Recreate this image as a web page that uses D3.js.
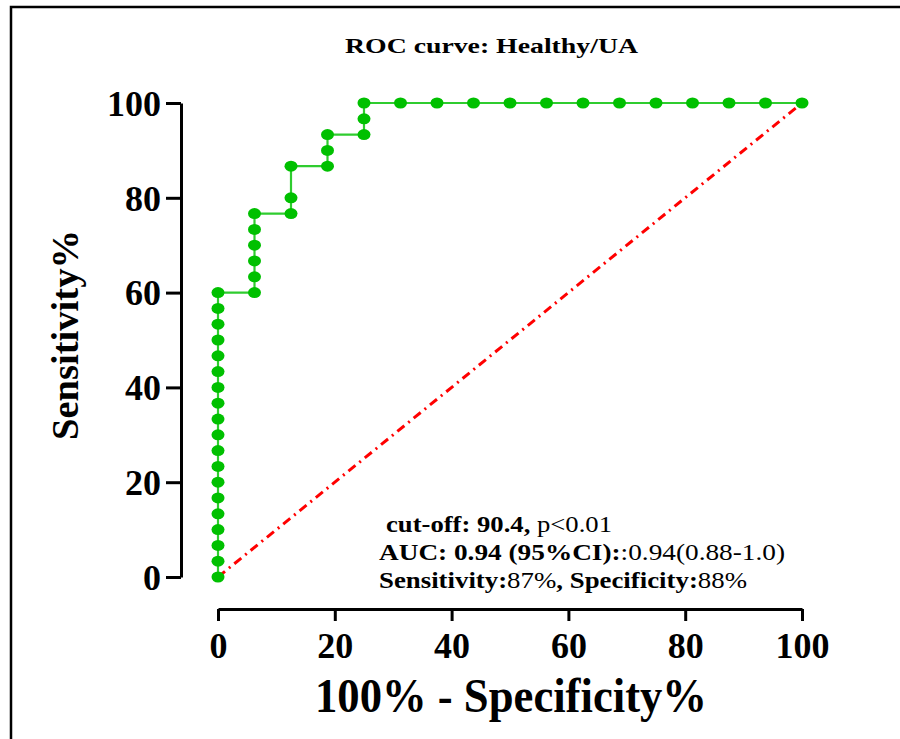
<!DOCTYPE html>
<html>
<head>
<meta charset="utf-8">
<script src="https://cdn.jsdelivr.net/npm/d3@7"></script>
<style>
  body { margin: 0; background: #fff; }
  text { font-family: "Liberation Serif", "Times New Roman", serif; }
</style>
</head>
<body>
<svg></svg>
<script>
// ROC points: 100% - Specificity% (x) vs Sensitivity% (y)
var fpr = [0, 0, 0, 0, 0, 0, 0, 0, 0, 0, 0, 0, 0, 0, 0, 0, 0, 0, 0,
           6.25, 6.25, 6.25, 6.25, 6.25, 6.25,
           12.5, 12.5, 12.5,
           18.75, 18.75, 18.75,
           25, 25, 25,
           31.25, 37.5, 43.75, 50, 56.25, 62.5, 68.75, 75, 81.25, 87.5, 93.75, 100];
var tpr = [0, 3.33, 6.67, 10, 13.33, 16.67, 20, 23.33, 26.67, 30, 33.33, 36.67, 40, 43.33, 46.67, 50, 53.33, 56.67, 60,
           60, 63.33, 66.67, 70, 73.33, 76.67,
           76.67, 80, 86.67,
           86.67, 90, 93.33,
           93.33, 96.67, 100,
           100, 100, 100, 100, 100, 100, 100, 100, 100, 100, 100, 100];
var refLine = [0, 100];
var xTicks = [0, 20, 40, 60, 80, 100];
var yTicks = [0, 20, 40, 60, 80, 100];

var title = "ROC curve: Healthy/UA";
var xTitle = "100% - Specificity%";
var yTitle = "Sensitivity%";
var notes = [
  [["cut-off: 90.4, ", "bold"], ["p<0.01", "normal"]],
  [["AUC: 0.94 (95%CI):", "bold"], [":0.94(0.88-1.0)", "normal"]],
  [["Sensitivity:", "bold"], ["87%", "normal"], [", Specificity:", "bold"], ["88%", "normal"]]
];

const width = 900, height = 739;

const x = d3.scaleLinear().domain([0, 100]).range([218, 802]);
const y = d3.scaleLinear().domain([0, 100]).range([577, 103]);

const svg = d3.select("svg")
    .attr("width", width)
    .attr("height", height)
    .attr("viewBox", [0, 0, width, height]);

// outer frame (right and bottom edges fall outside the picture)
svg.append("rect")
    .attr("x", 11).attr("y", 7)
    .attr("width", 1000).attr("height", 1000)
    .attr("fill", "none")
    .attr("stroke", "black")
    .attr("stroke-width", 2.5);

// title
svg.append("text")
    .attr("x", 345).attr("y", 53)
    .attr("font-size", 21).attr("font-weight", "bold")
    .attr("textLength", 293).attr("lengthAdjust", "spacingAndGlyphs")
    .text(title);

// y axis
const yAxis = d3.axisLeft(y).tickValues(yTicks).tickSize(15).tickSizeOuter(0);
const yAx = svg.append("g")
    .attr("transform", "translate(181,0)")
    .call(yAxis);
yAx.select(".domain").attr("stroke-width", 3);
yAx.selectAll(".tick line").attr("stroke-width", 3);
yAx.selectAll(".tick text")
    .attr("x", -20)
    .attr("dy", "0.34em")
    .attr("font-size", 36)
    .attr("font-weight", "bold")
    .attr("font-family", "Liberation Serif, serif")
    .attr("fill", "black");

// x axis
const xAxis = d3.axisBottom(x).tickValues(xTicks).tickSize(12).tickSizeOuter(0);
const xAx = svg.append("g")
    .attr("transform", "translate(0,609)")
    .call(xAxis);
xAx.select(".domain").attr("stroke-width", 3);
xAx.selectAll(".tick line").attr("stroke-width", 3);
xAx.selectAll(".tick text")
    .attr("y", 49)
    .attr("dy", 0)
    .attr("font-size", 36)
    .attr("font-weight", "bold")
    .attr("font-family", "Liberation Serif, serif")
    .attr("fill", "black");

// axis titles
svg.append("text")
    .attr("x", 315).attr("y", 712)
    .attr("font-size", 48).attr("font-weight", "bold")
    .attr("textLength", 392).attr("lengthAdjust", "spacingAndGlyphs")
    .text(xTitle);

svg.append("text")
    .attr("transform", "translate(78,440) rotate(-90)")
    .attr("font-size", 38).attr("font-weight", "bold")
    .attr("textLength", 210).attr("lengthAdjust", "spacingAndGlyphs")
    .text(yTitle);

// reference diagonal
svg.append("line")
    .attr("x1", x(refLine[0])).attr("y1", y(refLine[0]))
    .attr("x2", x(refLine[1])).attr("y2", y(refLine[1]))
    .attr("stroke", "#ff0000")
    .attr("stroke-width", 3)
    .attr("stroke-dasharray", "9,5,2,5");

// ROC curve
const pts = fpr.map((d, i) => ({ fx: d, sy: tpr[i] }));
const line = d3.line()
    .x(d => x(d.fx))
    .y(d => y(d.sy));

svg.append("path")
    .attr("fill", "none")
    .attr("stroke", "#2fcc2f")
    .attr("stroke-width", 2.2)
    .attr("d", line(pts));

svg.append("g")
    .selectAll("ellipse")
    .data(pts)
    .join("ellipse")
    .attr("cx", d => x(d.fx))
    .attr("cy", d => y(d.sy))
    .attr("rx", 6.5)
    .attr("ry", 5.5)
    .attr("fill", "#00c000");

// annotation
const noteX = [386, 379, 379];
const noteY = [532, 560, 588];
const noteLen = [226, 406, 368];
notes.forEach((parts, i) => {
  const t = svg.append("text")
      .attr("x", noteX[i]).attr("y", noteY[i])
      .attr("font-size", 23)
      .attr("textLength", noteLen[i]).attr("lengthAdjust", "spacingAndGlyphs")
      .attr("xml:space", "preserve");
  parts.forEach(p => {
    t.append("tspan").attr("font-weight", p[1]).text(p[0]);
  });
});
</script>
</body>
</html>
